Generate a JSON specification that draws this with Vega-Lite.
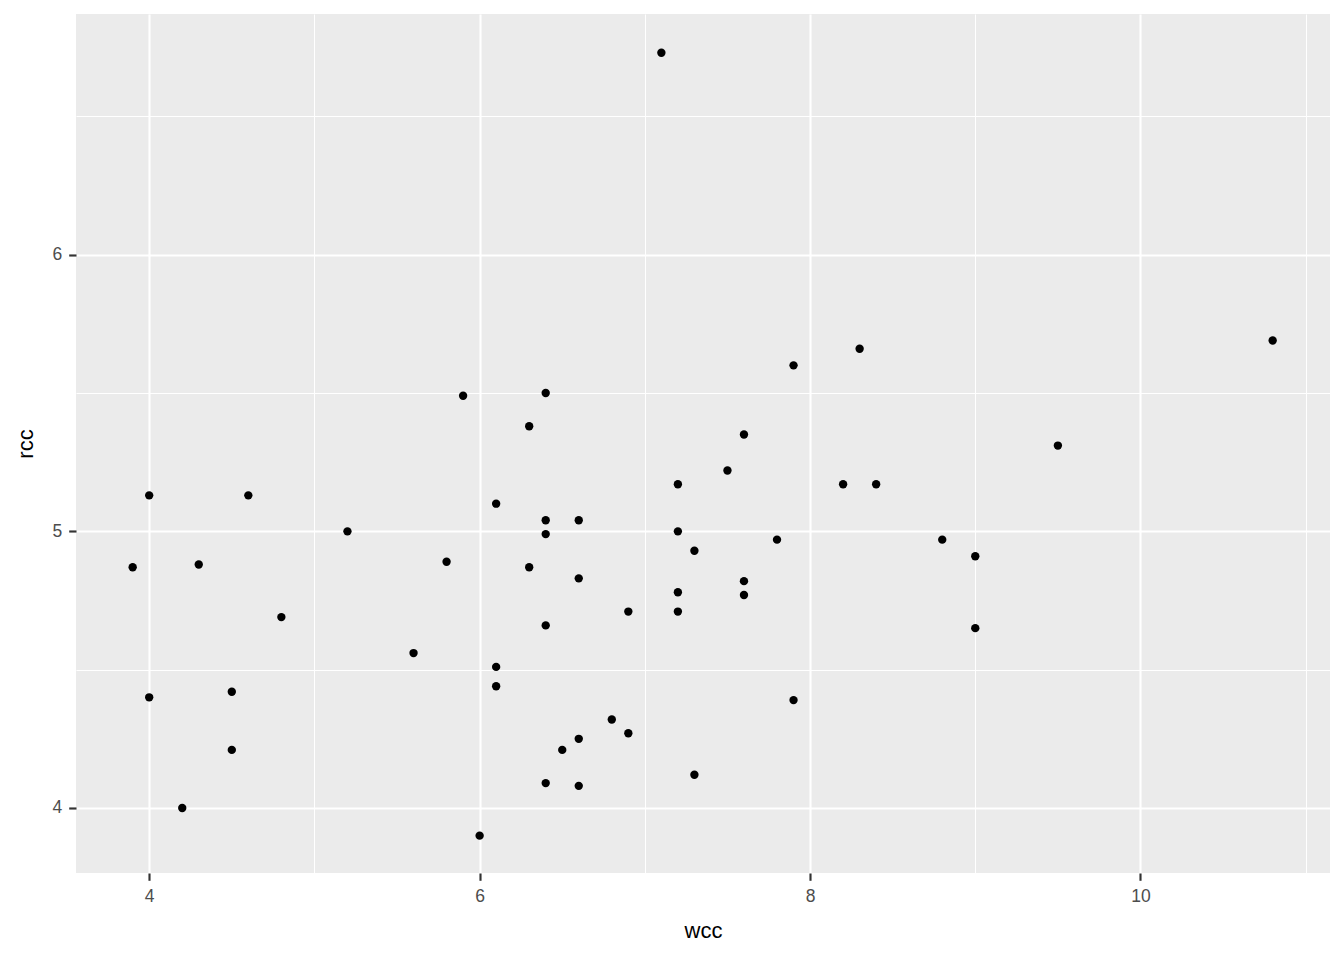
{
  "$schema": "https://vega.github.io/schema/vega-lite/v6.json",
  "width": 1254,
  "height": 859,
  "autosize": {"type": "none"},
  "padding": {"left": 76, "top": 14, "right": 14, "bottom": 87},
  "background": "white",
  "config": {
    "view": {"fill": "#EBEBEB", "stroke": null},
    "font": "Liberation Sans"
  },
  "data": {
    "values": [
      {"wcc": 7.1, "rcc": 6.73},
      {"wcc": 10.8, "rcc": 5.69},
      {"wcc": 8.3, "rcc": 5.66},
      {"wcc": 7.9, "rcc": 5.6},
      {"wcc": 5.9, "rcc": 5.49},
      {"wcc": 6.4, "rcc": 5.5},
      {"wcc": 6.3, "rcc": 5.38},
      {"wcc": 7.6, "rcc": 5.35},
      {"wcc": 9.5, "rcc": 5.31},
      {"wcc": 7.5, "rcc": 5.22},
      {"wcc": 4.0, "rcc": 5.13},
      {"wcc": 4.6, "rcc": 5.13},
      {"wcc": 6.1, "rcc": 5.1},
      {"wcc": 7.2, "rcc": 5.17},
      {"wcc": 8.2, "rcc": 5.17},
      {"wcc": 8.4, "rcc": 5.17},
      {"wcc": 5.2, "rcc": 5.0},
      {"wcc": 6.4, "rcc": 5.04},
      {"wcc": 6.6, "rcc": 5.04},
      {"wcc": 6.4, "rcc": 4.99},
      {"wcc": 7.2, "rcc": 5.0},
      {"wcc": 7.8, "rcc": 4.97},
      {"wcc": 8.8, "rcc": 4.97},
      {"wcc": 7.3, "rcc": 4.93},
      {"wcc": 9.0, "rcc": 4.91},
      {"wcc": 5.8, "rcc": 4.89},
      {"wcc": 3.9, "rcc": 4.87},
      {"wcc": 4.3, "rcc": 4.88},
      {"wcc": 6.3, "rcc": 4.87},
      {"wcc": 6.6, "rcc": 4.83},
      {"wcc": 7.6, "rcc": 4.82},
      {"wcc": 7.6, "rcc": 4.77},
      {"wcc": 7.2, "rcc": 4.78},
      {"wcc": 6.9, "rcc": 4.71},
      {"wcc": 7.2, "rcc": 4.71},
      {"wcc": 4.8, "rcc": 4.69},
      {"wcc": 6.4, "rcc": 4.66},
      {"wcc": 9.0, "rcc": 4.65},
      {"wcc": 5.6, "rcc": 4.56},
      {"wcc": 6.1, "rcc": 4.51},
      {"wcc": 6.1, "rcc": 4.44},
      {"wcc": 4.5, "rcc": 4.42},
      {"wcc": 4.0, "rcc": 4.4},
      {"wcc": 7.9, "rcc": 4.39},
      {"wcc": 6.8, "rcc": 4.32},
      {"wcc": 6.9, "rcc": 4.27},
      {"wcc": 6.6, "rcc": 4.25},
      {"wcc": 6.5, "rcc": 4.21},
      {"wcc": 4.5, "rcc": 4.21},
      {"wcc": 4.2, "rcc": 4.0},
      {"wcc": 6.4, "rcc": 4.09},
      {"wcc": 6.6, "rcc": 4.08},
      {"wcc": 7.3, "rcc": 4.12},
      {"wcc": 6.0, "rcc": 3.9}
    ]
  },
  "mark": {"type": "circle", "size": 70, "color": "black", "opacity": 1},
  "encoding": {
    "x": {
      "field": "wcc",
      "type": "quantitative",
      "scale": {"domain": [3.557, 11.147], "nice": false, "zero": false},
      "axis": {
        "title": "wcc",
        "values": [4, 5, 6, 7, 8, 9, 10, 11],
        "format": "~g",
        "labelExpr": "datum.value % 2 === 0 ? datum.label : ''",
        "domain": false,
        "gridColor": "white",
        "gridWidth": {"condition": {"test": "datum.value % 2 === 0", "value": 2.13}, "value": 1.07},
        "tickOpacity": {"condition": {"test": "datum.value % 2 === 0", "value": 1}, "value": 0},
        "tickColor": "#333333",
        "tickSize": 7.3,
        "tickWidth": 2.13,
        "labelColor": "#4D4D4D",
        "labelFontSize": 17.5,
        "labelFont": "Liberation Sans",
        "labelPadding": 7,
        "titleFont": "Liberation Sans",
        "titleFontSize": 22,
        "titleFontWeight": "normal",
        "titleColor": "black",
        "titlePadding": 16
      }
    },
    "y": {
      "field": "rcc",
      "type": "quantitative",
      "scale": {"domain": [3.765, 6.87], "nice": false, "zero": false},
      "axis": {
        "title": "rcc",
        "values": [4, 4.5, 5, 5.5, 6, 6.5],
        "format": "~g",
        "labelExpr": "datum.value % 1 === 0 ? datum.label : ''",
        "domain": false,
        "gridColor": "white",
        "gridWidth": {"condition": {"test": "datum.value % 1 === 0", "value": 2.13}, "value": 1.07},
        "tickOpacity": {"condition": {"test": "datum.value % 1 === 0", "value": 1}, "value": 0},
        "tickColor": "#333333",
        "tickSize": 7.3,
        "tickWidth": 2.13,
        "labelColor": "#4D4D4D",
        "labelFontSize": 17.5,
        "labelFont": "Liberation Sans",
        "labelPadding": 7,
        "titleFont": "Liberation Sans",
        "titleFontSize": 22,
        "titleFontWeight": "normal",
        "titleColor": "black",
        "titlePadding": 14
      }
    }
  }
}
